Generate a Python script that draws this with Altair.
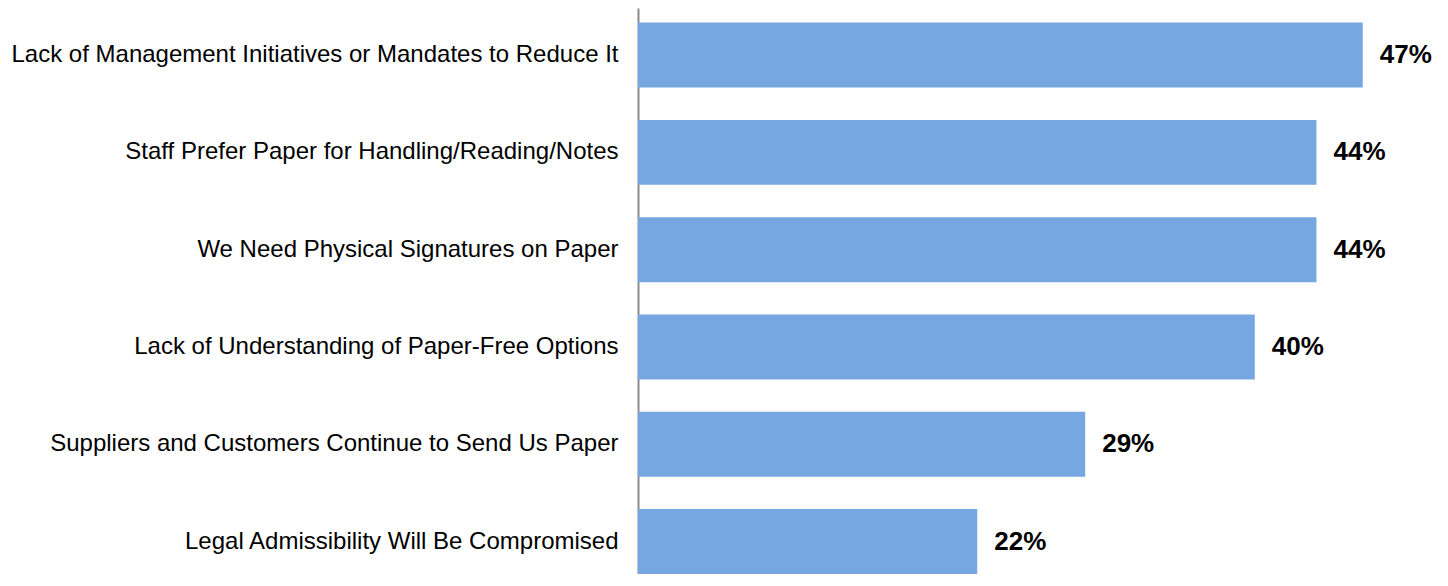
import altair as alt
import pandas as pd

categories = [
    "Lack of Management Initiatives or Mandates to Reduce It",
    "Staff Prefer Paper for Handling/Reading/Notes",
    "We Need Physical Signatures on Paper",
    "Lack of Understanding of Paper-Free Options",
    "Suppliers and Customers Continue to Send Us Paper",
    "Legal Admissibility Will Be Compromised",
]
values = [47, 44, 44, 40, 29, 22]
labels = ["47%", "44%", "44%", "40%", "29%", "22%"]

df = pd.DataFrame({"cat": categories, "val": values, "lab": labels})

y_enc = alt.Y(
    "cat:N",
    sort=categories,
    scale=alt.Scale(paddingInner=0.332, paddingOuter=0.075, align=1),
    axis=alt.Axis(
        title=None,
        ticks=False,
        domain=True,
        domainColor="#8c8c8c",
        domainWidth=2,
        labelFont="Liberation Sans",
        labelFontSize=24,
        labelColor="#000000",
        labelPadding=20,
        labelLimit=1000,
    ),
)
x_enc = alt.X(
    "val:Q",
    scale=alt.Scale(domain=[0, 50], nice=False),
    axis=None,
)

bars = alt.Chart(df).mark_bar(color="#76A7E0").encode(x=x_enc, y=y_enc)
text = alt.Chart(df).mark_text(
    align="left", baseline="middle", dx=17, font="Liberation Sans",
    fontSize=26, fontWeight="bold", color="#000000"
).encode(x=x_enc, y=y_enc, text="lab:N")

chart = (bars + text).properties(
    width=771,
    height=566,
    padding={"left": 630, "top": 0, "right": 30, "bottom": 0},
    autosize=alt.AutoSizeParams(type="none"),
).configure_view(stroke=None).configure_axis(grid=False)

chart.save("out.html", embed_options={"renderer": "svg", "actions": False})
